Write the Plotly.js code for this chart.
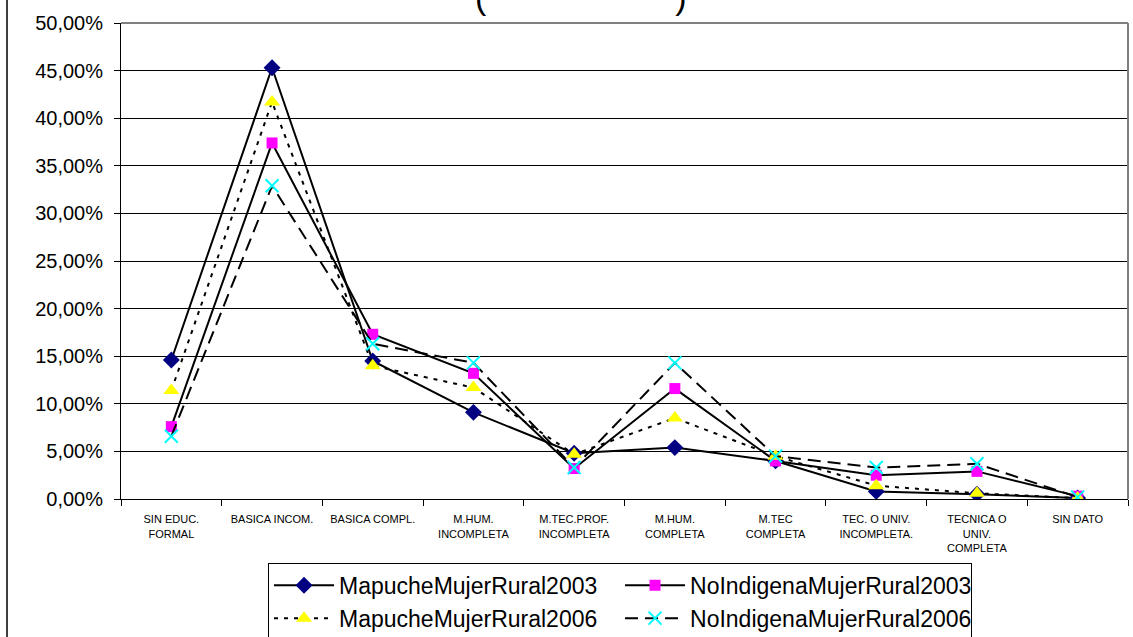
<!DOCTYPE html>
<html>
<head>
<meta charset="utf-8">
<script src="https://cdn.plot.ly/plotly-3.0.1.min.js"></script>
<style>html,body{margin:0;padding:0;background:#fff;}#chart{width:1133px;height:637px;}</style>
</head>
<body>
<div id="chart"></div>
<script>
const categories = ["SIN EDUC.<br>FORMAL","BASICA INCOM.","BASICA COMPL.","M.HUM.<br>INCOMPLETA","M.TEC.PROF.<br>INCOMPLETA","M.HUM.<br>COMPLETA","M.TEC<br>COMPLETA","TEC. O UNIV.<br>INCOMPLETA.","TECNICA O<br>UNIV.<br>COMPLETA","SIN DATO"];
const mapuche2003 = [0.146, 0.453, 0.145, 0.091, 0.048, 0.054, 0.040, 0.008, 0.005, 0.001];
const noIndigena2003 = [0.076, 0.374, 0.173, 0.132, 0.032, 0.116, 0.040, 0.025, 0.029, 0.003];
const mapuche2006 = [0.114, 0.417, 0.140, 0.117, 0.047, 0.085, 0.045, 0.014, 0.006, 0.001];
const noIndigena2006 = [0.066, 0.329, 0.163, 0.143, 0.033, 0.143, 0.045, 0.033, 0.037, 0.002];
const seriesNames = ["MapucheMujerRural2003","NoIndigenaMujerRural2003","MapucheMujerRural2006","NoIndigenaMujerRural2006"];

const traces = [
  {x: categories, y: mapuche2003, name: seriesNames[0], mode: "lines+markers",
   line: {color: "#000000", width: 2},
   marker: {symbol: "diamond", size: 13, color: "#000080"}},
  {x: categories, y: noIndigena2003, name: seriesNames[1], mode: "lines+markers",
   line: {color: "#000000", width: 2},
   marker: {symbol: "square", size: 11, color: "#FF00FF"}},
  {x: categories, y: mapuche2006, name: seriesNames[2], mode: "lines+markers",
   line: {color: "#000000", width: 2, dash: "4px,6px"},
   marker: {symbol: "triangle-up", size: 14, color: "#FFFF00"}},
  {x: categories, y: noIndigena2006, name: seriesNames[3], mode: "lines+markers",
   line: {color: "#000000", width: 2, dash: "13px,7px"},
   marker: {symbol: "x-thin", size: 13, color: "#00FFFF", line: {color: "#00FFFF", width: 2}}}
];

const layout = {
  width: 1133, height: 637,
  margin: {l: 121, r: 5, t: 23, b: 138, autoexpand: false},
  paper_bgcolor: "#ffffff", plot_bgcolor: "#ffffff",
  separators: ",.",
  font: {family: "Liberation Sans, Arial, sans-serif", color: "#000000"},
  showlegend: true,
  xaxis: {
    type: "category", range: [-0.5, categories.length - 0.5], autorange: false,
    showgrid: false, zeroline: false,
    showline: true, linecolor: "#000000", linewidth: 1,
    ticks: "outside", tickson: "boundaries", ticklen: 6, tickcolor: "#000000",
    ticklabelstandoff: 10,
    tickfont: {size: 11, family: "Liberation Sans, Arial, sans-serif"},
    tickangle: 0, automargin: false
  },
  yaxis: {
    range: [0, 0.5], autorange: false, dtick: 0.05, tick0: 0, tickformat: ".2%",
    showgrid: true, gridcolor: "#000000", gridwidth: 1,
    zeroline: false,
    showline: true, linecolor: "#000000", linewidth: 1,
    ticks: "outside", ticklen: 6, tickcolor: "#000000",
    ticklabelstandoff: 7,
    tickfont: {size: 20, family: "Liberation Sans, Arial, sans-serif"},
    automargin: false
  },
  legend: {
    orientation: "h", x: 0.146, y: -0.134, xanchor: "left", yanchor: "top",
    bgcolor: "#ffffff", bordercolor: "#000000", borderwidth: 1,
    font: {size: 23, family: "Liberation Sans, Arial, sans-serif"},
    entrywidth: 276, entrywidthmode: "pixels", itemwidth: 60
  },
  shapes: [
    {type: "line", xref: "paper", yref: "paper", x0: 0, x1: 1, y0: 1, y1: 1, line: {color: "#808080", width: 2}},
    {type: "line", xref: "paper", yref: "paper", x0: 1, x1: 1, y0: 0, y1: 1, line: {color: "#808080", width: 2}},
    {type: "line", xref: "paper", yref: "paper", x0: -0.1132, x1: -0.1132, y0: -0.5, y1: 1.2, line: {color: "#000000", width: 1.5}}
  ],
  annotations: [
    {text: "(\u00A0\u00A0\u00A0\u00A0\u00A0\u00A0\u00A0\u00A0\u00A0\u00A0\u00A0\u00A0\u00A0\u00A0\u00A0\u00A0\u00A0\u00A0\u00A0\u00A0)",
     xref: "paper", yref: "paper", x: 0.457, y: 1, xanchor: "center", yanchor: "bottom",
     yshift: 5, showarrow: false,
     font: {size: 34, family: "Liberation Sans, Arial, sans-serif", color: "#000000"}}
  ]
};

Plotly.newPlot("chart", traces, layout, {displayModeBar: false, staticPlot: true});
</script>
</body>
</html>
